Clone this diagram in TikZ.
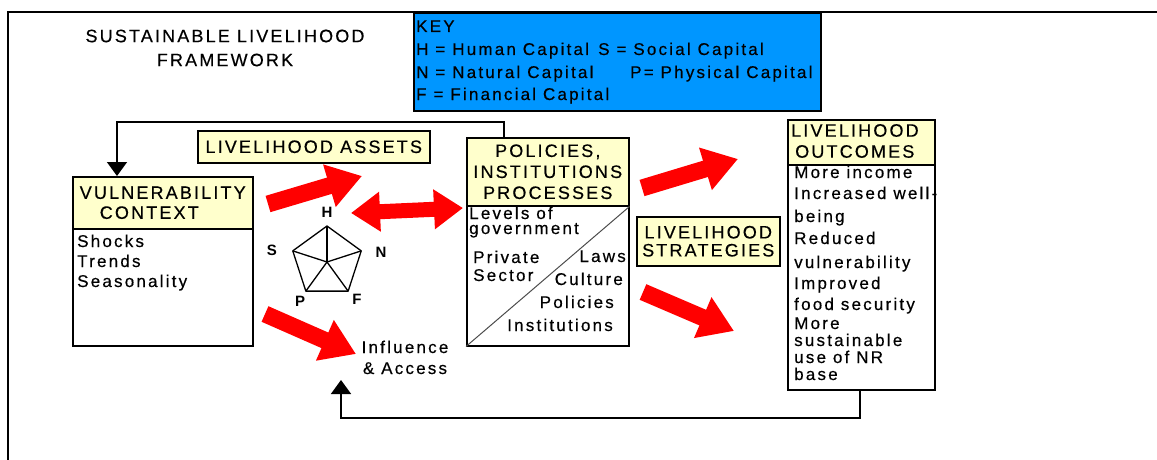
\documentclass[tikz,border=0pt]{standalone}
\usepackage{fontspec}
\setmainfont{Liberation Sans}
\newfontfamily\capsfont[LetterSpace=12,FakeBold=0.4]{Liberation Sans}
\newfontfamily\plainfont[LetterSpace=13,FakeBold=0.4]{Liberation Sans}
\usetikzlibrary{arrows.meta}
\definecolor{keyblue}{RGB}{0,150,255}
\definecolor{headyellow}{RGB}{255,255,204}
\definecolor{arrowred}{RGB}{255,0,0}
\tikzset{
  capstext/.style={font=\capsfont\fontsize{18}{21}\selectfont, inner sep=0pt},
  bodytext/.style={font=\plainfont\fontsize{17}{20}\selectfont, inner sep=0pt},
  panel/.style={draw, line width=1.5pt, fill=white, anchor=north west, inner sep=0pt},
  headbox/.style={draw, line width=1.5pt, fill=headyellow, anchor=north west, inner sep=0pt, capstext},
  cornerlabel/.style={font=\bfseries\fontsize{15}{17}\selectfont, inner sep=0pt},
  feedback/.style={line width=1.6pt, -{Triangle[length=14pt,width=20pt]}},
  fatarrow/.style={draw=arrowred, line width=17pt, -{Triangle[length=34pt,width=42pt]}},
  fatboth/.style={draw=arrowred, line width=15pt, {Triangle[length=29pt,width=38pt]}-{Triangle[length=29pt,width=38pt]}},
}
\begin{document}
\begin{tikzpicture}[x=1pt,y=-1pt]
\useasboundingbox (0,0) rectangle (1157,460);
% frame round the figure
\draw[line width=2.2pt] (8,470) -- (8,12) -- (1170,12);
\node[capstext, align=center] (title) at (225,48) {SUSTAINABLE LIVELIHOOD\\[3pt]FRAMEWORK};

% key
\node[draw, line width=1.5pt, fill=keyblue, anchor=north west, minimum width=407pt, minimum height=97pt] (key) at (413,13) {};
\node[bodytext, anchor=base west] (k0) at (416,32) {KEY};
\node[bodytext, anchor=base west] (k1) at (416,55) {H = Human Capital};
\node[bodytext, anchor=base west] (k2) at (598,55) {S = Social Capital};
\node[bodytext, anchor=base west] (k3) at (416,78) {N = Natural Capital};
\node[bodytext, anchor=base west] (k4) at (630,78) {P= Physical Capital};
\node[bodytext, anchor=base west] (k5) at (416,100) {F = Financial Capital};

% boxes
\node[headbox, minimum width=232pt, minimum height=32pt] (assets) at (197,130) {LIVELIHOOD ASSETS};
\node[panel, minimum width=180pt, minimum height=169pt] (vul) at (72,176) {};
\node[headbox, minimum width=180pt, minimum height=52pt, align=left] (vulh) at (vul.north west) {VULNERABILITY\\[-1pt]\hspace*{20pt}CONTEXT};
\foreach \yy/\lbl in {247/Shocks, 267/Trends, 287/Seasonality}
  \node[bodytext, anchor=base west] (v\yy) at (77,\yy) {\lbl};

\node[panel, minimum width=162pt, minimum height=208pt] (pol) at (466,137) {};
\node[headbox, minimum width=162pt, minimum height=68pt, align=center] (polh) at (pol.north west) {POLICIES,\\INSTITUTIONS\\PROCESSES};
\draw[line width=1pt, black!70] (pol.south west) -- (polh.south east);
\node[bodytext, anchor=base west, align=left, font=\plainfont\fontsize{17}{15}\selectfont] (levels) at (469,234) {Levels of\\government};
\node[bodytext, anchor=base west, align=left, font=\plainfont\fontsize{17}{18}\selectfont] (private) at (473,281) {Private\\Sector};
\foreach \yy/\xx/\lbl in {262/626/Laws, 285/623/Culture, 308/614/Policies, 331/613/Institutions}
  \node[bodytext, anchor=base east] (p\yy) at (\xx,\yy) {\lbl};

\node[headbox, minimum width=143pt, minimum height=49pt, align=center, font=\capsfont\fontsize{18}{18}\selectfont] (strat) at (636,216) {LIVELIHOOD\\STRATEGIES};

\node[panel, minimum width=147pt, minimum height=270pt] (out) at (787,119) {};
\node[headbox, minimum width=147pt, minimum height=45pt] (outh) at (out.north west) {};
\node[capstext, anchor=west, align=left] (outtitle) at (791,141) {LIVELIHOOD\\\hspace*{4pt}OUTCOMES};
\foreach \yy/\lbl in {178/More income, 199/Increased well-, 222/being, 244/Reduced, 268/vulnerability, 289/Improved, 310/food security, 329/More, 346/sustainable, 363/use of NR, 380/base}
  \node[bodytext, anchor=base west] (o\yy) at (794,\yy) {\lbl};

% asset pentagon
\coordinate (pc) at (327,262);
\foreach \k in {0,...,4}
  \coordinate (c\k) at ({327+36*cos(90+72*\k)},{262-36*sin(90+72*\k)});
\draw[line width=1.3pt, line join=round] (c0) -- (c1) -- (c2) -- (c3) -- (c4) -- cycle;
\foreach \k in {0,...,4}
  \draw[line width=1.3pt] (pc) -- (c\k);
\foreach \lab/\px/\py in {H/327/212, S/272/250, N/381/252, P/300/301, F/357/299}
  \node[cornerlabel] (lab\lab) at (\px,\py) {\lab};

\node[bodytext, align=center, anchor=base] (infl) at (405,374) {Influence\\[1pt]\& Access};

% red arrows
\coordinate (r1a) at (268,204); \coordinate (r1b) at (362,176);
\coordinate (r2a) at (351,213); \coordinate (r2b) at (463,208);
\coordinate (r3a) at (265,314); \coordinate (r3b) at (356,354);
\coordinate (r4a) at (642,188); \coordinate (r4b) at (738,159);
\coordinate (r5a) at (643,292); \coordinate (r5b) at (734,331);
\draw[fatarrow] (r1a) -- (r1b);
\draw[fatboth] (r2a) -- (r2b);
\draw[fatarrow] (r3a) -- (r3b);
\draw[fatarrow] (r4a) -- (r4b);
\draw[fatarrow] (r5a) -- (r5b);

% feedback lines
\coordinate (fbtop) at (117,122);
\draw[feedback] ([xshift=38pt]pol.north west) |- (fbtop) -- ([xshift=45pt]vul.north west);
\coordinate (fbbot) at (341,418);
\coordinate (fbend) at (341,380);
\draw[feedback] ([xshift=73pt]out.south west) |- (fbbot) -- (fbend);
\end{tikzpicture}
\end{document}
